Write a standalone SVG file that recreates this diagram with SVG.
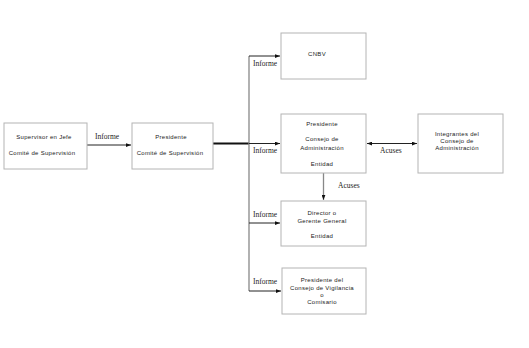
<svg xmlns="http://www.w3.org/2000/svg" width="529" height="348" viewBox="0 0 529 348">
<style>
.box{fill:#fff;stroke:#b4b4b4;stroke-width:1}
.t{font-family:"Liberation Sans",Arial,sans-serif;font-size:6px;letter-spacing:0.3px;fill:#222;text-anchor:middle}
.l{font-family:"Liberation Serif","Times New Roman",serif;font-size:7.5px;fill:#222}
.a{stroke:#222;stroke-width:1;fill:none}
.g{stroke:#888;stroke-width:1.3;fill:none}
</style>
<defs>
<marker id="ah" viewBox="0 0 8 6" refX="8" refY="3" markerWidth="5" markerHeight="4" orient="auto-start-reverse" markerUnits="userSpaceOnUse">
<path d="M0,0 L8,3 L0,6 z" fill="#111"/>
</marker>
</defs>
<rect width="529" height="348" fill="#fff"/>
<g id="connectors">
<line class="a" x1="87" y1="145" x2="131" y2="145" marker-end="url(#ah)"/>
<line x1="213" y1="143.5" x2="249" y2="143.5" stroke="#111" stroke-width="2"/>
<line class="g" x1="249" y1="56" x2="249" y2="291" stroke-width="2"/>
<line class="a" x1="249" y1="56" x2="280" y2="56" marker-end="url(#ah)"/>
<line class="a" x1="249" y1="143.5" x2="280" y2="143.5" marker-end="url(#ah)"/>
<line class="a" x1="249" y1="223" x2="280" y2="223" marker-end="url(#ah)"/>
<line class="a" x1="249" y1="291" x2="281" y2="291" marker-end="url(#ah)"/>
<line class="g" x1="323.5" y1="173" x2="323.5" y2="200" marker-end="url(#ah)"/>
<line class="a" x1="367" y1="143.5" x2="417" y2="143.5" marker-start="url(#ah)" marker-end="url(#ah)"/>
<text class="l" x="95" y="139">Informe</text>
<text class="l" x="253" y="66">Informe</text>
<text class="l" x="253" y="152.5">Informe</text>
<text class="l" x="253" y="217">Informe</text>
<text class="l" x="253" y="284">Informe</text>
<text class="l" x="338" y="188">Acuses</text>
<text class="l" x="380" y="153">Acuses</text>
</g>
<g id="supervisor">
<rect class="box" x="4" y="123" width="83" height="46"/>
<text class="t" x="44" y="139">Supervisor en Jefe</text>
<text class="t" x="42" y="155">Comité de Supervisión</text>
</g>
<g id="presidente-comite">
<rect class="box" x="132" y="123" width="81" height="46"/>
<text class="t" x="171" y="139">Presidente</text>
<text class="t" x="170" y="155">Comité de Supervisión</text>
</g>
<g id="cnbv">
<rect class="box" x="281" y="33" width="85" height="46"/>
<text class="t" x="317" y="56">CNBV</text>
</g>
<g id="presidente-consejo">
<rect class="box" x="281" y="114" width="85" height="59"/>
<text class="t" x="322" y="126">Presidente</text>
<text class="t" x="322" y="141">Consejo de</text>
<text class="t" x="322" y="150">Administración</text>
<text class="t" x="322" y="166">Entidad</text>
</g>
<g id="integrantes">
<rect class="box" x="418" y="114" width="85" height="59"/>
<text class="t" x="457" y="136">Integrantes del</text>
<text class="t" x="457" y="143">Consejo de</text>
<text class="t" x="457" y="150">Administración</text>
</g>
<g id="director">
<rect class="box" x="281" y="201" width="85" height="45"/>
<text class="t" x="322" y="215">Director o</text>
<text class="t" x="322" y="223">Gerente General</text>
<text class="t" x="322" y="238">Entidad</text>
</g>
<g id="vigilancia">
<rect class="box" x="282" y="268" width="84" height="46"/>
<text class="t" x="322" y="282">Presidente del</text>
<text class="t" x="322" y="290">Consejo de Vigilancia</text>
<text class="t" x="322" y="297">o</text>
<text class="t" x="322" y="304">Comisario</text>
</g>
</svg>
